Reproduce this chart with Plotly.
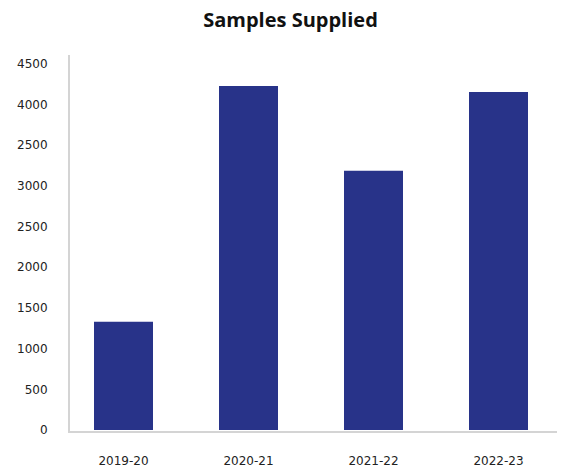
import plotly.graph_objects as go

categories = ["2019-20", "2020-21", "2021-22", "2022-23"]
samples = [1332, 4229, 3185, 4155]
tick_values = [0, 500, 1000, 1500, 2000, 2500, 3000, 3500, 4000, 4500]
tick_labels = ["0", "500", "1000", "1500", "2000", "2500", "3000", "2500", "4000", "4500"]

fig = go.Figure(go.Bar(x=categories, y=samples, marker=dict(color="#283389", line=dict(width=0))))

# page body has an 8px margin, so the figure is sized 8px smaller
W, H = 557, 460
fig.update_layout(
    width=W, height=H,
    margin=dict(l=62, r=2, t=47, b=36.5, autoexpand=False),
    paper_bgcolor="white", plot_bgcolor="white",
    bargap=0.528,
    showlegend=False,
    title=dict(text="<b>Samples Supplied</b>", x=282.5 / W, xref="container", xanchor="center",
               y=1 - 12 / H, yref="container", yanchor="middle",
               font=dict(family="Open Sans", size=20, color="#111111")),
    font=dict(family="DejaVu Sans", size=12, color="#222222"),
)
fig.update_xaxes(type="category", range=[-0.428, 3.516], showline=True, linecolor="#d4d4d4", linewidth=2,
                 showgrid=False, ticks="", ticklabelstandoff=18, automargin=False)
fig.update_yaxes(range=[-12, 4609], tickvals=tick_values, ticktext=tick_labels, showline=True,
                 linecolor="#d4d4d4", linewidth=2, showgrid=False, zeroline=False, ticks="",
                 ticklabelstandoff=18, automargin=False)

fig.write_html("out.html")
